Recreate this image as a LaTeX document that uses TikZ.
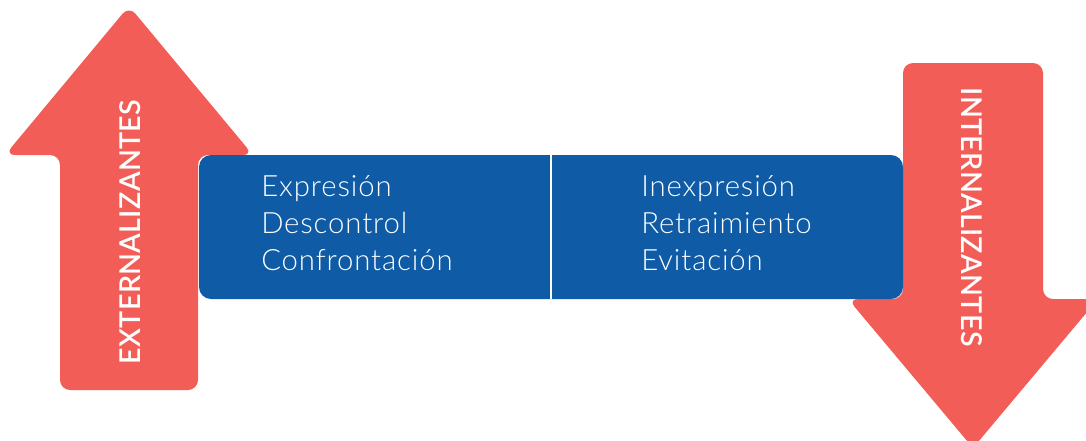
\documentclass[tikz,border=0pt]{standalone}
\usepackage{fontspec}
\setmainfont{Lato}
\newfontfamily\lightfont[LetterSpace=3]{Lato Light}
\newfontfamily\semifont[LetterSpace=1]{Lato Semibold}
\definecolor{arrowred}{RGB}{242,93,87}
\definecolor{boxblue}{RGB}{15,91,166}
\begin{document}
\begin{tikzpicture}[x=0.75pt,y=-0.75pt,
  redarrow/.style={fill=arrowred,draw=none,rounded corners=7.5pt},
  itemtext/.style={anchor=base west,inner sep=0pt,text=white,font=\lightfont\fontsize{22}{26}\selectfont},
  arrowlabel/.style={inner sep=0pt,text=white,font=\semifont\fontsize{21.5}{26}\selectfont}]
\useasboundingbox (0,0) rectangle (1086,440);
% upward arrow on the left
\path[redarrow] (60,390) -- (60,155) -- (5,155) -- (129,6) -- (253,155)
  -- (198,155) -- (198,390) -- cycle;
% downward arrow on the right
\path[redarrow] (903,63) -- (1043,63) -- (1043,299) -- (1098,299) -- (973,448)
  -- (848,299) -- (903,299) -- cycle;
% central blue panel split in two
\path[fill=boxblue,rounded corners=9pt] (199,155) rectangle (903,299);
\draw[white,line width=1.5pt] (551,155) -- (551,299);
% arrow labels
\node[arrowlabel,rotate=90] (ext) at (130,232) {EXTERNALIZANTES};
\node[arrowlabel,rotate=-90] (int) at (972,217) {INTERNALIZANTES};
% left column
\node[itemtext] (l1) at (261,196) {Expresión};
\node[itemtext] (l2) at (261,233) {Descontrol};
\node[itemtext] (l3) at (261,270) {Confrontación};
% right column
\node[itemtext] (r1) at (641,196) {Inexpresión};
\node[itemtext] (r2) at (641,233) {Retraimiento};
\node[itemtext] (r3) at (641,270) {Evitación};
\end{tikzpicture}
\end{document}
